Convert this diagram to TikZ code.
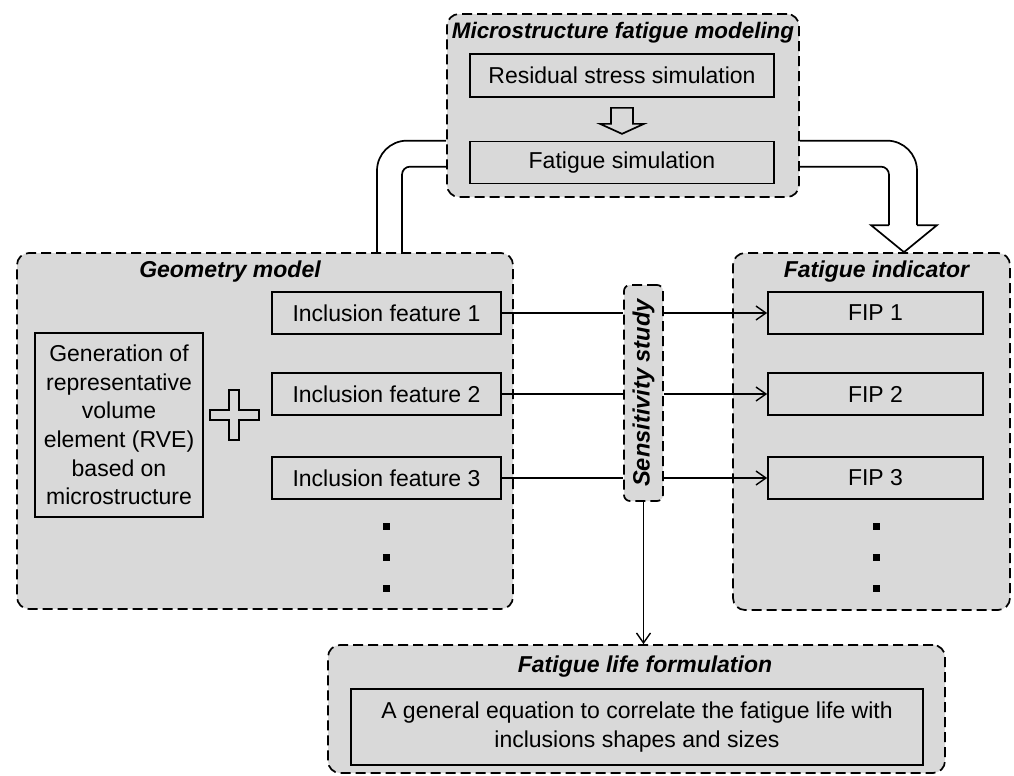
\documentclass[tikz,border=0pt]{standalone}
\usepackage{fontspec}
\setmainfont{Liberation Sans}
\usepackage{graphicx}
\usepackage{xcolor}
\usetikzlibrary{arrows.meta, positioning, calc}
\definecolor{boxgray}{HTML}{D9D9D9}

\begin{document}
\begin{tikzpicture}[x=0.5pt, y=-0.5pt, line width=0.85pt,
    group/.style={draw, dash pattern=on 5pt off 2.5pt, rounded corners=6pt, fill=boxgray, inner sep=0pt},
    box/.style={draw, fill=boxgray, inner sep=0pt, font=\fontsize{11.5}{14.3}\selectfont},
    title/.style={inner sep=0pt, font=\fontsize{11.5}{14}\selectfont\bfseries\itshape},
    dot/.style={fill=black, inner sep=0pt, minimum size=3.5pt},
    link/.style={line width=0.7pt},
    tip/.style={-{Straight Barb[length=5pt, width=7pt]}}]
    \useasboundingbox (0,0) rectangle (1014,776);

    % group boxes
    \node[group, minimum width=176pt, minimum height=91.5pt] (micro) at (623,105.5) {};
    \node[group, minimum width=248pt, minimum height=178pt] (geom) at (265,431) {};
    \node[group, minimum width=138.5pt, minimum height=178.5pt] (ind) at (871.5,431.5) {};
    \node[group, minimum width=308.5pt, minimum height=64pt] (life) at (636.5,709) {};

    \node[title, font=\fontsize{11.2}{14}\selectfont\bfseries\itshape] (microt) at (623,33) {Microstructure fatigue modeling};
    \node[title] (geomt) at (230,272) {Geometry model};
    \node[title] (indt) at (876.5,272) {Fatigue indicator};
    \node[title] (lifet) at (645,667) {Fatigue life formulation};

    \node[box, minimum width=152pt, minimum height=21.5pt] (res) at (622,75.5) {Residual stress simulation};
    \node[box, minimum width=152pt, minimum height=21pt] (fsim) at (622,162.5) {Fatigue simulation};
    \node[box, minimum width=84pt, minimum height=92pt, align=center] (gen) at (119,425)
        {Generation of\\representative\\volume\\element (RVE)\\based on\\microstructure};
    \node[box, minimum width=286pt, minimum height=38pt, align=center] (eq) at (637,727)
        {A general equation to correlate the fatigue life with\\inclusions shapes and sizes};
    \node[group, rounded corners=3pt, minimum width=19.5pt, minimum height=108pt,
        font=\fontsize{11.8}{14}\selectfont\bfseries\itshape] (sens) at (643.5,393)
        {\rotatebox{90}{Sensitivity study}};

    \foreach \i/\y in {1/313, 2/394, 3/478} {
        \node[box, minimum width=114.5pt, minimum height=21pt] (inc\i) at (386.5,\y) {Inclusion feature \i};
        \node[box, minimum width=107.5pt, minimum height=21pt] (fip\i) at (875.5,\y) {FIP \i};
        \draw[link] (inc\i.east) -- (inc\i.east -| sens.west);
        \draw[link, tip] (inc\i.east -| sens.east) -- (fip\i.west);
    }
    \foreach \y [count=\k] in {526, 557, 588} {
        \node[dot] (gdot\k) at (386,\y) {};
        \node[dot] (idot\k) at (876,\y) {};
    }

    \draw[link, tip] (sens.south) -- (sens.south |- life.north);

    % hollow arrow and plus
    \draw[fill=boxgray] ($(res.south)+(-11,10)$) -- ++(0,16) -- ++(-11,0) -- ++(22,10)
        -- ++(22,-10) -- ++(-11,0) -- ++(0,-16) -- cycle;
    \draw[fill=boxgray, shift={(234,415)}] (-5,-25) -- (5,-25) -- (5,-5) -- (25,-5) -- (25,5)
        -- (5,5) -- (5,25) -- (-5,25) -- (-5,5) -- (-24,5) -- (-24,-5) -- (-5,-5) -- cycle;

    % pipes
    \draw[rounded corners=15pt] (micro.west |- fsim.north) -| ($(geom.north)+(112,0)$);
    \draw[rounded corners=4pt] ($(micro.west |- fsim.north)+(0,26)$) -| ($(geom.north)+(137,0)$);
    \draw[rounded corners=15pt] (micro.east |- fsim.north) -| ($(ind.north)+(45.5,-27)$);
    \draw[rounded corners=4pt] ($(micro.east |- fsim.north)+(0,26)$) -| ($(ind.north)+(17.5,-27)$);
    \draw[line join=miter] ($(ind.north)+(45.5,-27)$) -- ++(20,0) -- ($(ind.north)+(32.5,0)$)
        -- ($(ind.north)+(-0.5,-27)$) -- ++(18,0);
\end{tikzpicture}
\end{document}
